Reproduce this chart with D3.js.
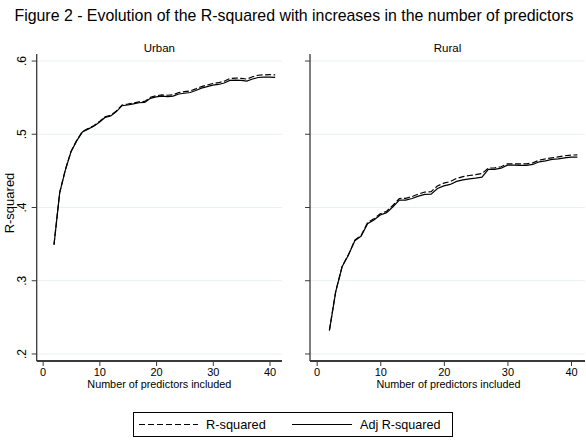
<!DOCTYPE html>
<html><head><meta charset="utf-8">
<script src="https://cdn.jsdelivr.net/npm/d3@7"></script>
<style>
body{margin:0;background:#fff;}
text{font-family:"Liberation Sans",Arial,sans-serif;fill:#000;}
</style></head>
<body>
<svg id="c" width="586" height="443"></svg>
<script>
const predictors = [2,3,4,5,6,7,8,9,10,11,12,13,14,15,16,17,18,19,20,21,22,23,24,25,26,27,28,29,30,31,32,33,34,35,36,37,38,39,40,41];
const urbanR2  = [.3495,.4205,.4515,.4766,.4916,.5036,.5077,.5117,.5173,.5238,.5259,.5319,.5400,.5411,.5427,.5443,.5449,.5505,.5526,.5537,.5533,.5539,.5570,.5581,.5592,.5620,.5651,.5672,.5693,.5704,.5725,.5761,.5767,.5763,.5754,.5785,.5806,.5812,.5813,.5812];
const urbanAdj = [.349,.420,.451,.476,.491,.503,.507,.511,.5165,.523,.525,.531,.539,.540,.5415,.543,.5435,.549,.551,.552,.5515,.552,.555,.556,.557,.5597,.563,.565,.567,.568,.570,.5735,.574,.5735,.5725,.5755,.5775,.578,.578,.5778];
const ruralR2  = [.2325,.2857,.3195,.3357,.3555,.3621,.3793,.3845,.3914,.3949,.4031,.4123,.4125,.4150,.4184,.4211,.4216,.4295,.4333,.4354,.4397,.4421,.4437,.4448,.4464,.4538,.4542,.4556,.4597,.4597,.4597,.4597,.4610,.4647,.4665,.4678,.4692,.4706,.4715,.4719];
const ruralAdj = [.232,.285,.319,.335,.3546,.361,.378,.383,.3897,.393,.401,.410,.410,.4123,.4155,.418,.4183,.426,.4296,.4315,.4356,.4378,.4392,.4401,.4415,.452,.452,.4537,.4578,.4578,.4574,.4574,.4588,.4624,.4637,.4656,.4665,.4678,.4688,.4688];
const panelNames = ["Urban","Rural"];
const yTicks = [.2,.3,.4,.5,.6];
const yTickLabels = [".2",".3",".4",".5",".6"];
const xTicks = [0,10,20,30,40];
const seriesNames = ["R-squared","Adj R-squared"];
const titleText = "Figure 2 - Evolution of the R-squared with increases in the number of predictors";
const xTitle = "Number of predictors included";
const yTitle = "R-squared";

const svg = d3.select("#c");
svg.append("text").attr("x",294).attr("y",21).attr("text-anchor","middle")
  .style("font-size","15.9px").text(titleText);

const y = d3.scaleLinear().domain([0.1904,0.6096]).range([361,54]);
const panels = [
  {name:panelNames[0], r2:urbanR2, adj:urbanAdj, x0:36.7, x1:282, labels:true},
  {name:panelNames[1], r2:ruralR2, adj:ruralAdj, x0:310, x1:585, labels:false}
];
const axisCol = "#3a3a3a";
panels.forEach(p=>{
  const x = d3.scaleLinear().domain([-1.05,42.2]).range([p.x0,p.x1]);
  const g = svg.append("g");
  g.selectAll("line.grid").data(yTicks).enter().append("line")
    .attr("x1",p.x0).attr("x2",p.x1).attr("y1",d=>y(d)).attr("y2",d=>y(d))
    .attr("stroke","#e8f0f1").attr("stroke-width",1);
  const ya = d3.axisLeft(y).tickValues(yTicks).tickSize(5).tickFormat((d,i)=>p.labels?yTickLabels[i]:"");
  const yg = g.append("g").attr("transform",`translate(${p.x0},0)`).call(ya);
  yg.select(".domain").attr("stroke",axisCol).attr("stroke-width",1.3).attr("d",`M0,${y.range()[1]}V${y.range()[0]}`);
  yg.selectAll(".tick line").attr("stroke",axisCol);
  yg.selectAll(".tick text").each(function(d){
    d3.select(this).attr("transform",`translate(-14.5,${y(d)}) rotate(-90)`).attr("x",0).attr("y",0)
      .attr("dy","0.35em").attr("text-anchor","middle").style("font-size","12px");
    d3.select(this.parentNode).attr("transform",null);
    d3.select(this.parentNode).select("line").attr("y1",y(d)).attr("y2",y(d));
  });
  const xa = d3.axisBottom(x).tickValues(xTicks).tickSize(5).tickFormat(d3.format("d"));
  const xg = g.append("g").attr("transform","translate(0,361)").call(xa);
  xg.select(".domain").attr("stroke",axisCol).attr("stroke-width",1.8).attr("d",`M${p.x0},0H${p.x1}`);
  xg.selectAll(".tick line").attr("stroke",axisCol);
  xg.selectAll(".tick text").attr("y",7.5).style("font-size","11px");
  xg.selectAll("text").style("fill","#000");
  g.append("text").attr("x",(p.x0+p.x1)/2).attr("y",52).attr("text-anchor","middle")
    .style("font-size","11.5px").text(p.name);
  g.append("text").attr("x",(p.x0+p.x1)/2 + (p.labels?0:1)).attr("y",388).attr("text-anchor","middle")
    .style("font-size","10.8px").text(xTitle);
  const line = vals => d3.line().x((d,i)=>x(predictors[i])).y(d=>y(d))(vals);
  g.append("path").attr("d",line(p.r2)).attr("fill","none").attr("stroke","#000")
    .attr("stroke-width",1.2).attr("stroke-dasharray","6,2.5");
  g.append("path").attr("d",line(p.adj)).attr("fill","none").attr("stroke","#000")
    .attr("stroke-width",1.2);
});
svg.append("text").attr("transform","translate(9,203) rotate(-90)").attr("text-anchor","middle")
  .attr("dy","0.35em").style("font-size","13px").text(yTitle);

const lg = svg.append("g");
lg.append("rect").attr("x",133.5).attr("y",412.5).attr("width",319).attr("height",24)
  .attr("fill","#fff").attr("stroke","#000").attr("stroke-width",1);
lg.append("line").attr("x1",139).attr("x2",198).attr("y1",424.5).attr("y2",424.5)
  .attr("stroke","#000").attr("stroke-width",1.2).attr("stroke-dasharray","6,3");
lg.append("text").attr("x",206).attr("y",424.5).attr("dy","0.35em").style("font-size","12.8px").text(seriesNames[0]);
lg.append("line").attr("x1",292).attr("x2",352).attr("y1",424.5).attr("y2",424.5)
  .attr("stroke","#000").attr("stroke-width",1.2);
lg.append("text").attr("x",360).attr("y",424.5).attr("dy","0.35em").style("font-size","12.6px").text(seriesNames[1]);
</script>
</body></html>
